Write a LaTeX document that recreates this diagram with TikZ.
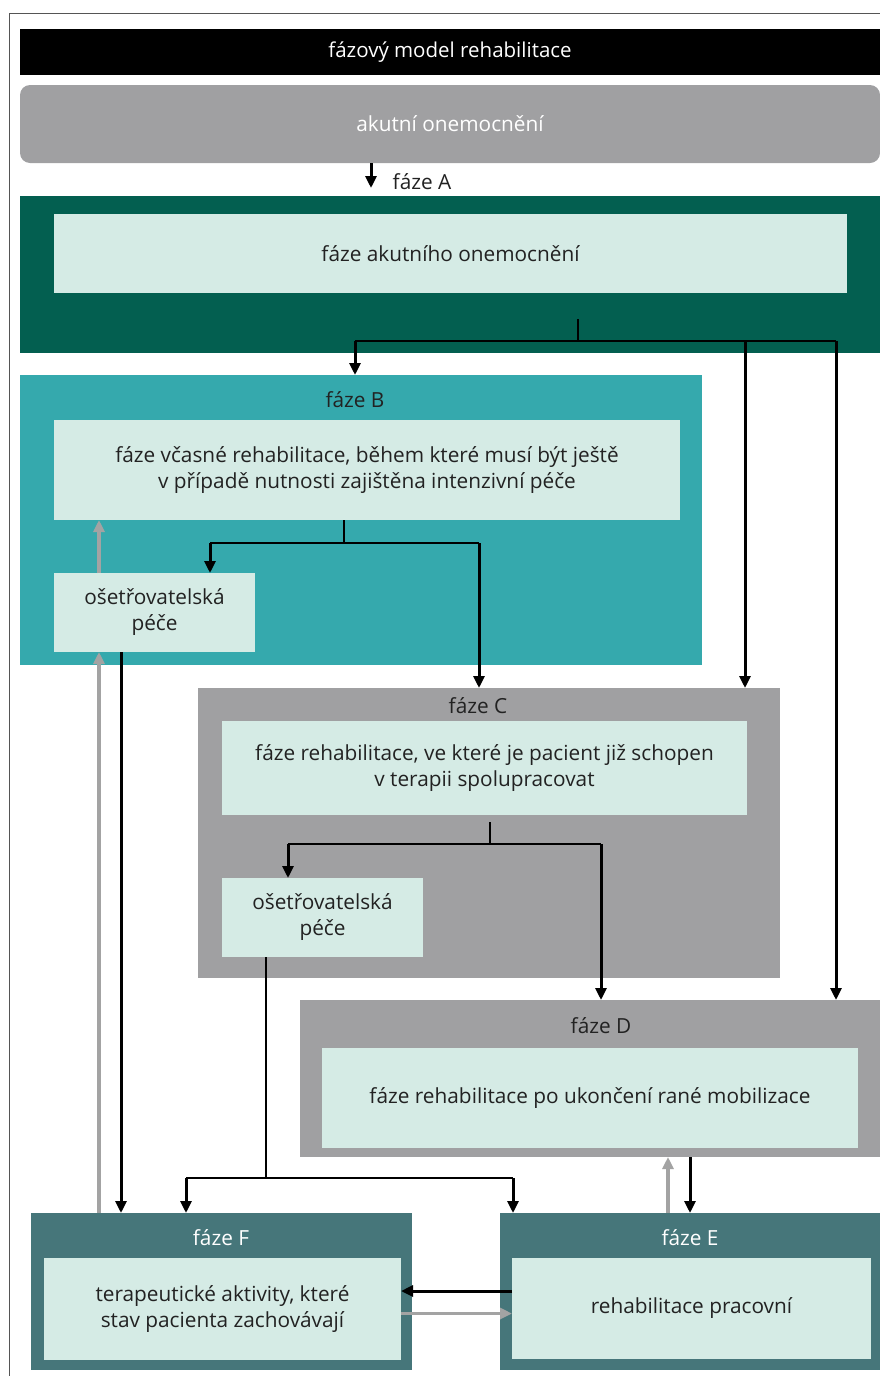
\documentclass[tikz,border=0pt]{standalone}
\usepackage{fontspec}
\setmainfont{Open Sans}
\usepackage{tikz}
\usetikzlibrary{arrows.meta}

\definecolor{frame}{HTML}{555555}
\definecolor{zelena}{HTML}{035F50}
\definecolor{tyrkys}{HTML}{35A9AD}
\definecolor{seda}{HTML}{A0A0A2}
\definecolor{bridlice}{HTML}{46767A}
\definecolor{svetla}{HTML}{D5EBE5}
\definecolor{sipka}{HTML}{A3A3A3}
\definecolor{pismo}{HTML}{222222}

\begin{document}
\begin{tikzpicture}[x=1pt,y=-1pt,
    every node/.style={inner sep=0pt, outer sep=0pt, font=\fontsize{20.8}{26}\selectfont, text=pismo, align=center},
    faze/.style={fill=#1, minimum height=157pt},
    vnitrni/.style={fill=svetla},
    popis/.style={anchor=base},
    arr/.style={line width=3pt, -{Triangle[length=12pt,width=11pt]}},
    sarr/.style={line width=3.4pt, draw=sipka, -{Triangle[length=12pt,width=11pt]}},
    vetev/.style={line width=2.2pt},
    tenka/.style={line width=1.2pt}]
    \useasboundingbox (0,0) rectangle (880,1376);

    % ramecek
    \draw[frame, line width=1.2pt] (9.5,1380) -- (9.5,13.5) -- (885,13.5);

    % nadpis a akutni onemocneni
    \node[fill=black, minimum width=860pt, minimum height=46pt, text=white,
        font=\fontsize{20.5}{24}\selectfont] (nadpis) at (450,52) {fázový model rehabilitace};
    \node[fill=seda, rounded corners=10pt, minimum width=860pt, minimum height=78pt, text=white] (akut) at (450,124) {akutní onemocnění};
    \node[popis] (labA) at (422,189) {fáze A};

    % faze A
    \node[faze=zelena, minimum width=860pt] (boxA) at (450,274.5) {};
    \node[vnitrni, minimum width=793pt, minimum height=79pt] (innA) at (450.5,253.5) {fáze akutního onemocnění};

    % faze B
    \node[faze=tyrkys, minimum width=682pt, minimum height=290pt] (boxB) at (361,520) {};
    \node[popis] (labB) at (355,407) {fáze B};
    \node[vnitrni, minimum width=626pt, minimum height=100pt] (innB) at (367,470)
        {fáze včasné rehabilitace, během které musí být ještě\\v případě nutnosti zajištěna intenzivní péče};
    \node[vnitrni, minimum width=201pt, minimum height=79pt] (osetB) at (154.5,612.5) {ošetřovatelská\\péče};

    % faze C
    \node[faze=seda, minimum width=582pt, minimum height=290pt] (boxC) at (489,833) {};
    \node[popis] (labC) at (478,713) {fáze C};
    \node[vnitrni, minimum width=525pt, minimum height=94pt] (innC) at (484.5,768)
        {fáze rehabilitace, ve které je pacient již schopen\\v terapii spolupracovat};
    \node[vnitrni, minimum width=201pt, minimum height=79pt] (osetC) at (322.5,917.5) {ošetřovatelská\\péče};

    % faze D
    \node[faze=seda, minimum width=580pt] (boxD) at (590,1078.5) {};
    \node[popis] (labD) at (601,1033) {fáze D};
    \node[vnitrni, minimum width=536pt, minimum height=100pt] (innD) at (590,1098)
        {fáze rehabilitace po ukončení rané mobilizace};

    % faze F a E
    \node[faze=bridlice, minimum width=381pt] (boxF) at (221.5,1291.5) {};
    \node[popis, text=white] (labF) at (221,1245) {fáze F};
    \node[vnitrni, minimum width=357pt, minimum height=102pt] (innF) at (222.5,1309)
        {terapeutické aktivity, které\\stav pacienta zachovávají};
    \node[faze=bridlice, minimum width=380pt] (boxE) at (690,1291.5) {};
    \node[popis, text=white] (labE) at (690,1245) {fáze E};
    \node[vnitrni, minimum width=359pt, minimum height=101pt] (innE) at (691.5,1308.5) {rehabilitace pracovní};

    % sipky
    \draw[arr] ([xshift=-79pt]akut.south) -- ([xshift=-79pt,yshift=8pt]boxA.north);

    \coordinate (sA) at (578,319);
    \draw[tenka] (sA) -- ++(0,22) coordinate (jA);
    \draw[vetev] ([xshift=-223pt]jA) -- ([xshift=258pt]jA);
    \draw[arr] ([xshift=-223pt]jA) -- ([xshift=-6pt]boxB.north);
    \draw[arr] ([xshift=167pt]jA) -- ([xshift=-35pt]boxC.north east);
    \draw[arr] ([xshift=258pt]jA) -- ([xshift=-44pt]boxD.north east);

    \draw[tenka] ([xshift=-23pt]innB.south) -- ++(0,23) coordinate (jB);
    \draw[vetev] ([xshift=-134pt]jB) -- ([xshift=135pt]jB);
    \draw[arr] ([xshift=-134pt]jB) -- ([xshift=-45pt]osetB.north east);
    \draw[arr] ([xshift=135pt]jB) -- ([xshift=-10pt]boxC.north);

    \draw[sarr] ([xshift=45pt]osetB.north west) -- ([xshift=45pt]osetB.north west |- innB.south);
    \draw[sarr] ([xshift=68pt]boxF.north west) -- ([xshift=68pt]boxF.north west |- osetB.south);
    \draw[arr] ([xshift=67pt]osetB.south west) -- ([xshift=67pt]osetB.south west |- boxF.north);

    \draw[tenka] ([xshift=5.5pt,yshift=-7pt]innC.south) -- ++(0,22) coordinate (jC);
    \draw[vetev] ([xshift=-202pt]jC) -- ([xshift=111pt]jC);
    \draw[arr] ([xshift=-202pt]jC) -- ([xshift=66pt]osetC.north west);
    \draw[arr] ([xshift=111pt]jC) -- ([xshift=11pt]boxD.north);

    \draw[tenka] ([xshift=44pt]osetC.south west) -- ++(0,221) coordinate (jN);
    \draw[vetev] ([xshift=-80pt]jN) -- ([xshift=247pt]jN);
    \draw[arr] ([xshift=-80pt]jN) -- ([xshift=-35.5pt]boxF.north);
    \draw[arr] ([xshift=247pt]jN) -- ([xshift=13pt]boxE.north west);

    \draw[sarr] ([xshift=-22pt]boxE.north) -- ([xshift=-22pt]boxE.north |- boxD.south);
    \draw[arr] (boxE.north |- boxD.south) -- (boxE.north);

    \draw[arr] ([yshift=17.5pt]innE.west) -- ([yshift=17.5pt]innE.west -| innF.east);
    \draw[sarr] ([yshift=-4.5pt]innF.east) -- ([yshift=-4.5pt]innF.east -| innE.west);
\end{tikzpicture}
\end{document}
